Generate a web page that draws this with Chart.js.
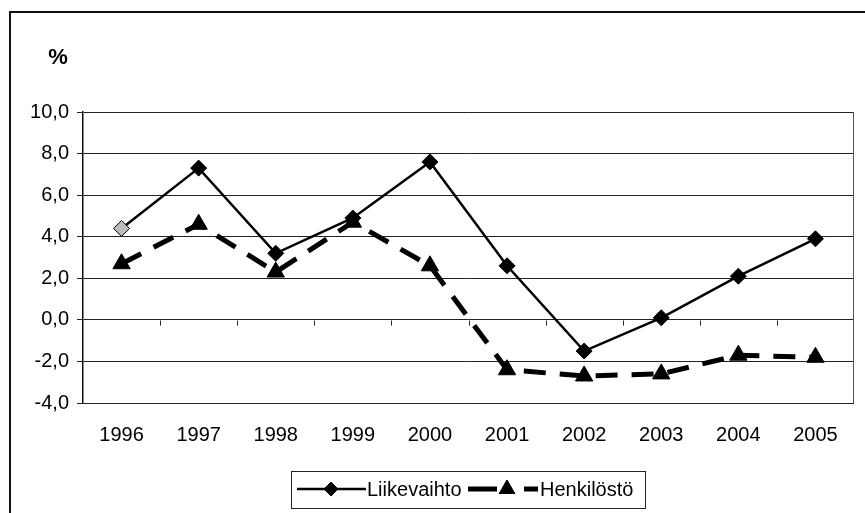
<!DOCTYPE html>
<html>
<head>
<meta charset="utf-8">
<script src="https://cdn.jsdelivr.net/npm/chart.js@4/dist/chart.umd.min.js"></script>
<style>
  html, body { margin: 0; padding: 0; background: #fff; }
  #wrap { position: relative; width: 865px; height: 513px; }
</style>
</head>
<body>
<div id="wrap"><canvas id="myChart" width="865" height="513"></canvas></div>
<script>
'use strict';

var years = ['1996', '1997', '1998', '1999', '2000', '2001', '2002', '2003', '2004', '2005'];
var liikevaihto = [4.4, 7.3, 3.2, 4.9, 7.6, 2.6, -1.5, 0.1, 2.1, 3.9];
var henkilosto = [2.7, 4.6, 2.3, 4.7, 2.6, -2.4, -2.7, -2.6, -1.7, -1.8];
var seriesNames = ['Liikevaihto', 'Henkilöstö'];
var yTicks = [-4, -2, 0, 2, 4, 6, 8, 10];

var FONT = 'Liberation Sans, Arial, sans-serif';

var frame = {
    id: 'frame',
    beforeDraw: function(chart) {
        var ctx = chart.ctx;
        ctx.save();
        ctx.fillStyle = '#fff';
        ctx.fillRect(0, 0, chart.width, chart.height);
        // outer chart border (top and left only visible)
        ctx.strokeStyle = '#111';
        ctx.lineWidth = 2;
        ctx.beginPath();
        ctx.moveTo(10, chart.height);
        ctx.lineTo(10, 12);
        ctx.lineTo(chart.width, 12);
        ctx.stroke();
        ctx.restore();
    },
    afterDatasetsDraw: function(chart) {
        var ctx = chart.ctx;
        var area = chart.chartArea;
        var x = chart.scales.x;
        var y = chart.scales.y;
        ctx.save();
        // plot area right border
        ctx.strokeStyle = '#555';
        ctx.lineWidth = 1;
        ctx.beginPath();
        ctx.moveTo(area.right - 0.5, area.top);
        ctx.lineTo(area.right - 0.5, area.bottom);
        ctx.stroke();
        // category tick marks on the zero line
        var zero = Math.round(y.getPixelForValue(0)) + 0.5;
        var half = (x.getPixelForValue(1) - x.getPixelForValue(0)) / 2;
        ctx.strokeStyle = '#222';
        ctx.beginPath();
        for (var i = 1; i < years.length; i++) {
            var px = Math.round(x.getPixelForValue(i) - half) + 0.5;
            ctx.moveTo(px, zero);
            ctx.lineTo(px, zero + 5);
        }
        ctx.stroke();
        // % label
        ctx.fillStyle = '#000';
        ctx.font = 'bold 22px ' + FONT;
        ctx.textAlign = 'center';
        ctx.textBaseline = 'middle';
        ctx.fillText('%', 58, 58);
        ctx.restore();
    },
    afterDraw: function(chart) {
        var ctx = chart.ctx;
        ctx.save();
        // legend box
        ctx.strokeStyle = '#222';
        ctx.lineWidth = 1;
        ctx.strokeRect(291.5, 471.5, 354, 37);
        ctx.font = '20px ' + FONT;
        ctx.fillStyle = '#000';
        ctx.textBaseline = 'alphabetic';
        ctx.textAlign = 'left';
        var ly = 489;
        // Liikevaihto
        ctx.strokeStyle = '#000';
        ctx.lineWidth = 2.5;
        ctx.beginPath();
        ctx.moveTo(297, ly);
        ctx.lineTo(366, ly);
        ctx.stroke();
        ctx.lineWidth = 1;
        Chart.helpers.drawPoint(ctx, { pointStyle: 'rectRot', radius: 7, borderWidth: 1 }, 331, ly);
        ctx.fill();
        ctx.fillText(seriesNames[0], 367, 496);
        // Henkilöstö
        ctx.lineWidth = 5;
        ctx.beginPath();
        ctx.moveTo(468, ly);
        ctx.lineTo(497, ly);
        ctx.moveTo(524, ly);
        ctx.lineTo(538, ly);
        ctx.stroke();
        ctx.lineWidth = 1;
        Chart.helpers.drawPoint(ctx, { pointStyle: 'triangle', radius: 9, borderWidth: 1 }, 507, ly);
        ctx.fill();
        ctx.fillText(seriesNames[1], 540, 496);
        ctx.restore();
    }
};

var ctx = document.getElementById('myChart');
var myChart = new Chart(ctx, {
    type: 'line',
    data: {
        labels: years,
        datasets: [{
            label: seriesNames[0],
            data: liikevaihto,
            borderColor: '#000',
            borderWidth: 2.5,
            backgroundColor: ['#bbb', '#000', '#000', '#000', '#000', '#000', '#000', '#000', '#000', '#000'],
            pointBorderColor: '#000',
            pointBorderWidth: 1,
            pointStyle: 'rectRot',
            pointRadius: 8,
            tension: 0
        }, {
            label: seriesNames[1],
            data: henkilosto,
            borderColor: '#000',
            borderWidth: 5,
            borderDash: [22, 14],
            backgroundColor: '#000',
            pointBorderColor: '#000',
            pointBorderWidth: 1,
            pointStyle: 'triangle',
            pointRadius: 10,
            tension: 0
        }]
    },
    plugins: [frame],
    options: {
        responsive: false,
        animation: false,
        layout: { padding: { left: 0, top: 112, right: 5, bottom: 0 } },
        plugins: {
            legend: { display: false },
            tooltip: { enabled: false }
        },
        scales: {
            x: {
                offset: true,
                grid: { display: false, drawTicks: false },
                border: { display: false },
                ticks: { color: '#000', padding: 20, font: { family: FONT, size: 20 }, maxRotation: 0 },
                afterFit: function(scale) { scale.height = 110; }
            },
            y: {
                min: yTicks[0],
                max: yTicks[yTicks.length - 1],
                afterBuildTicks: function(scale) {
                    scale.ticks = yTicks.map(function(v) { return { value: v }; });
                },
                grid: { color: '#222', lineWidth: 1, tickLength: 6, drawTicks: true },
                border: { color: '#111', width: 1.5 },
                ticks: {
                    color: '#000',
                    padding: 8,
                    font: { family: FONT, size: 20 },
                    callback: function(v) { return Number(v).toFixed(1).replace('.', ','); }
                },
                afterFit: function(scale) { scale.width = 83; }
            }
        }
    }
});
</script>
</body>
</html>
